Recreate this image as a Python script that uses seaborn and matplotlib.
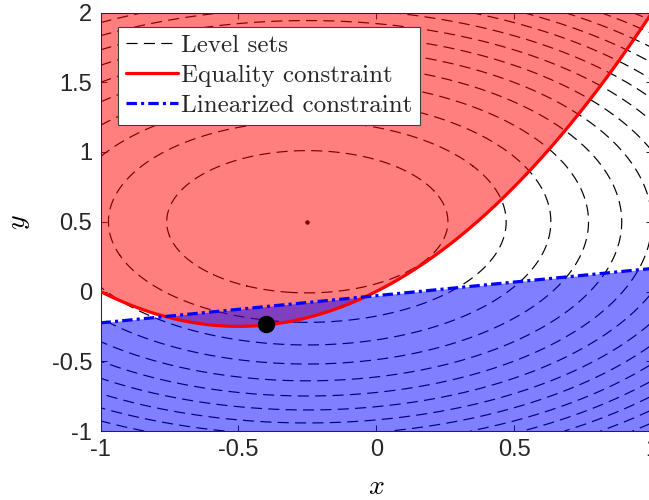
import numpy as np
import pandas as pd
import matplotlib
matplotlib.use("Agg")
import matplotlib.pyplot as plt
import seaborn as sns
from matplotlib.lines import Line2D
from matplotlib.font_manager import FontProperties

# ---- data ----
x_range = [-1.0, 1.0]
y_range = [-1.0, 2.0]
x_ticks = [-1, -0.5, 0, 0.5, 1]
y_ticks = [-1, -0.5, 0, 0.5, 1, 1.5, 2]
x_tick_labels = ["-1", "-0.5", "0", "0.5", "1"]
y_tick_labels = ["-1", "-0.5", "0", "0.5", "1", "1.5", "2"]
objective_center = [-0.25, 0.5]           # centre of level sets
level_values = [0.26, 0.52, 0.78, 1.04, 1.30, 1.56, 1.82, 2.08,
                2.34, 2.60, 2.86, 3.12, 3.38, 3.64]
constraint_coeffs = [1.0, 1.0, 0.0]       # y = x^2 + x
linearized_coeffs = [0.195, -0.03]        # y = 0.195 x - 0.03
iterate_point = [-0.4, -0.23]
legend_labels = ["Level sets", "Equality constraint", "Linearized constraint"]

# ---- style ----
sns.set_theme(style="ticks")
plt.rcParams["font.family"] = ["Liberation Sans", "DejaVu Sans"]
plt.rcParams["mathtext.fontset"] = "cm"
plt.rcParams["axes.unicode_minus"] = False
plt.rcParams["lines.scale_dashes"] = False

fig = plt.figure(figsize=(6.49, 5.00), dpi=100)
ax = fig.add_axes([100.5 / 649, (500 - 431) / 500, (652 - 100.5) / 649, (431 - 12.5) / 500])

# grid for the objective
xs = np.linspace(x_range[0], x_range[1], 601)
ys = np.linspace(y_range[0], y_range[1], 901)
X, Y = np.meshgrid(xs, ys)
Z = (X - objective_center[0]) ** 2 + (Y - objective_center[1]) ** 2

dash_ls = (0, (8.0, 4.5))
ax.contour(X, Y, Z, levels=level_values, colors="black", linewidths=0.85,
           linestyles=[dash_ls], zorder=1)
ax.plot([objective_center[0]], [objective_center[1]], "o", color="black",
        markersize=2.2, zorder=1.5)

curve_y = np.polyval(constraint_coeffs, xs)
lin_y = np.polyval(linearized_coeffs, xs)

ax.fill_between(xs, curve_y, y_range[1], color=(1, 0, 0), alpha=0.5, linewidth=0, zorder=2)
ax.fill_between(xs, y_range[0], lin_y, color=(0, 0, 1), alpha=0.5, linewidth=0, zorder=2.1)

df_c = pd.DataFrame({"x": xs, "y": curve_y})
df_l = pd.DataFrame({"x": xs, "y": lin_y})
sns.lineplot(data=df_c, x="x", y="y", ax=ax, color=(1, 0, 0), linewidth=2.3,
             sort=False, estimator=None, zorder=3)
sns.lineplot(data=df_l, x="x", y="y", ax=ax, color=(0, 0, 1), linewidth=2.3,
             sort=False, estimator=None, zorder=3.1)
dashdot_ls = (0, (7.5, 3.0, 2.2, 3.0))
ax.get_lines()[-1].set_linestyle(dashdot_ls)

ax.plot([iterate_point[0]], [iterate_point[1]], "o", color="black",
        markersize=11.5, zorder=5)

ax.set_xlim(x_range)
ax.set_ylim(y_range)
ax.set_xticks(x_ticks)
ax.set_xticklabels(x_tick_labels)
ax.set_yticks(y_ticks)
ax.set_yticklabels(y_tick_labels)
axcol = (0.15, 0.15, 0.15)
ax.tick_params(direction="in", length=4, width=0.75, top=True, right=True,
               labelsize=17, colors=axcol, pad=6)
for s in ax.spines.values():
    s.set_visible(True)
    s.set_color(axcol)
    s.set_linewidth(0.75)
ax.set_xlabel(r"$x$", fontsize=20, labelpad=9, color="black")
ax.set_ylabel(r"$y$", fontsize=20, labelpad=14, color="black")

handles = [
    Line2D([], [], color="black", linewidth=0.85, linestyle=dash_ls),
    Line2D([], [], color=(1, 0, 0), linewidth=2.3),
    Line2D([], [], color=(0, 0, 1), linewidth=2.3, linestyle=dashdot_ls),
]
leg = fig.legend(handles, legend_labels, loc="upper left",
                 bbox_to_anchor=(118 / 649, (500 - 27) / 500),
                 bbox_transform=fig.transFigure,
                 prop=FontProperties(family="cmr10", size=18),
                 frameon=True, fancybox=False, shadow=False, framealpha=1,
                 borderpad=0.3, handlelength=2.1, handletextpad=0.12,
                 labelspacing=0.3, borderaxespad=0)
leg.get_frame().set_edgecolor((0.25, 0.25, 0.25))
leg.get_frame().set_linewidth(0.8)
leg.set_zorder(10)

fig.savefig("out.png", dpi=100)
